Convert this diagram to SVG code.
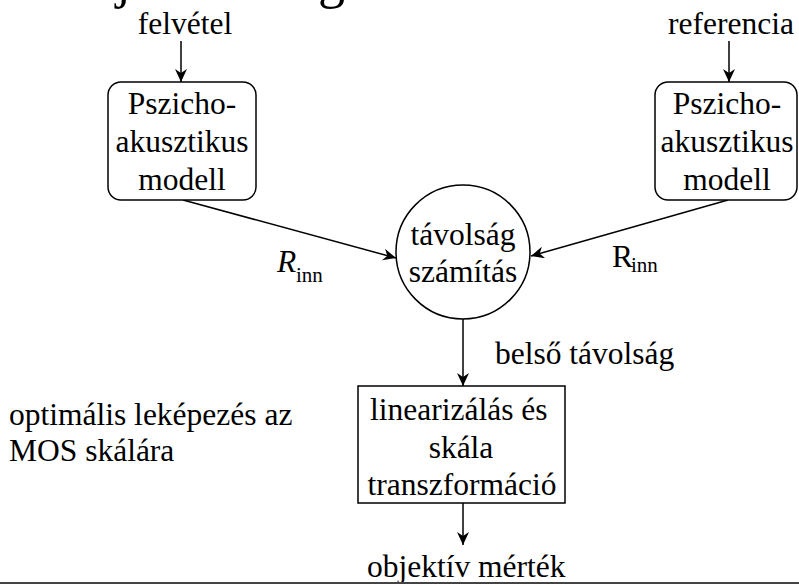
<svg xmlns="http://www.w3.org/2000/svg" width="799" height="586" viewBox="0 0 799 586">
<style>
text{font-family:"Liberation Serif","Times New Roman",serif;font-size:31.5px;fill:#000}
.c{text-anchor:middle}
.sub{font-size:21px}
.node{fill:#fff;stroke:#000;stroke-width:1.5}
.edge{fill:none;stroke:#000;stroke-width:1.5}
</style>
<defs>
<marker id="ah" markerUnits="userSpaceOnUse" markerWidth="14" markerHeight="12" viewBox="0 0 14 12" refX="13" refY="6" orient="auto">
<path d="M0,0 L13,6 L0,12 L4,6 z" fill="#000"/>
</marker>
</defs>
<rect width="799" height="586" fill="#fff"/>
<g id="title-fragment">
<text x="116" y="-3" style="font-size:54px">j</text>
<text x="318" y="-3" style="font-size:54px">g</text>
</g>
<g id="connectors">
<line class="edge" x1="181" y1="41" x2="181" y2="82" marker-end="url(#ah)"/>
<line class="edge" x1="729" y1="41" x2="729" y2="82" marker-end="url(#ah)"/>
<line class="edge" x1="183" y1="200" x2="396" y2="258" marker-end="url(#ah)"/>
<line class="edge" x1="728" y1="200" x2="531" y2="256" marker-end="url(#ah)"/>
<line class="edge" x1="463" y1="319" x2="463" y2="386" marker-end="url(#ah)"/>
<line class="edge" x1="463" y1="503" x2="463" y2="545" marker-end="url(#ah)"/>
</g>
<g id="lbl-felvetel"><text class="c" x="185" y="34">felvétel</text></g>
<g id="lbl-referencia"><text class="c" x="731" y="34">referencia</text></g>
<g id="pam-left">
<rect class="node" x="108" y="82" width="148" height="118" rx="13"/>
<text class="c" x="182" y="114">Pszicho-</text>
<text class="c" x="182" y="152">akusztikus</text>
<text class="c" x="182" y="190">modell</text>
</g>
<g id="pam-right">
<rect class="node" x="655" y="82" width="142" height="118" rx="13"/>
<text class="c" x="727" y="114">Pszicho-</text>
<text class="c" x="727" y="152">akusztikus</text>
<text class="c" x="727" y="190">modell</text>
</g>
<g id="distance">
<circle class="node" cx="463" cy="252" r="67"/>
<text class="c" x="463" y="245">távolság</text>
<text class="c" x="463" y="282">számítás</text>
</g>
<g id="lin">
<rect class="node" x="358" y="386" width="207" height="117"/>
<text x="370" y="420">linearizálás és</text>
<text class="c" x="461" y="458">skála</text>
<text class="c" x="462" y="495">transzformáció</text>
</g>
<g id="lbl-rinn-left"><text x="277" y="272" font-style="italic">R</text><text class="sub" x="296" y="282">inn</text></g>
<g id="lbl-rinn-right"><text x="612" y="267">R</text><text class="sub" x="631" y="272">inn</text></g>
<g id="lbl-belso"><text x="495" y="364">belső távolság</text></g>
<g id="lbl-optimal">
<text x="9" y="425">optimális leképezés az</text>
<text x="9" y="461">MOS skálára</text>
</g>
<g id="lbl-objektiv"><text x="367" y="577">objektív mérték</text></g>
<line x1="0" y1="583" x2="799" y2="583" stroke="#444" stroke-width="2"/>
</svg>
